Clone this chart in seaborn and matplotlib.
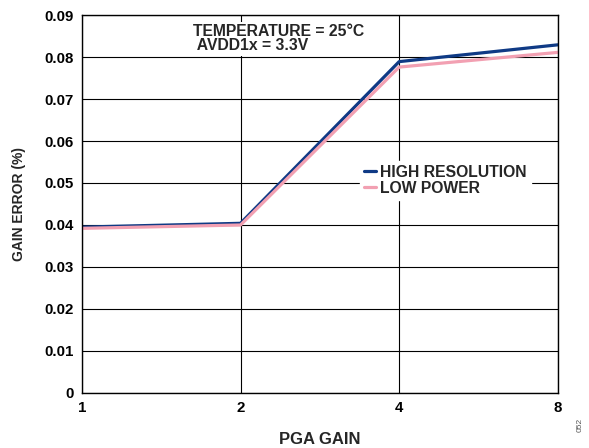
import pandas as pd
import matplotlib.pyplot as plt
import seaborn as sns
from matplotlib.ticker import FixedLocator, FixedFormatter, NullLocator

# data
pga_gain = [1, 2, 4, 8]
high_res = [0.0395, 0.0404, 0.0789, 0.0829]
low_power = [0.0392, 0.0400, 0.0776, 0.0811]

df = pd.DataFrame({
    'PGA': pga_gain * 2,
    'Error': high_res + low_power,
    'Mode': ['HIGH RESOLUTION'] * 4 + ['LOW POWER'] * 4,
})

sns.set_theme(style="white")
plt.rcParams['font.family'] = ['Liberation Sans', 'DejaVu Sans']
plt.rcParams['font.weight'] = 'bold'

fig = plt.figure(figsize=(5.89, 4.48), dpi=100)
ax = fig.add_axes([0.139, 0.1228, 0.808, 0.8437])

sns.lineplot(data=df, x='PGA', y='Error', hue='Mode',
             palette={'HIGH RESOLUTION': '#0f3a85', 'LOW POWER': '#f2a0b2'},
             linewidth=2.3, ax=ax, legend=True)

# gains 1, 2, 4, 8 are evenly spaced, so a base-2 log axis
ax.set_xscale('log', base=2)
ax.set_xlim(1, 8)
ax.xaxis.set_major_locator(FixedLocator(pga_gain))
ax.xaxis.set_major_formatter(FixedFormatter([str(v) for v in pga_gain]))
ax.xaxis.set_minor_locator(NullLocator())
ax.set_ylim(0, 0.09)
ax.set_yticks([i / 100 for i in range(10)])
ax.set_yticklabels(['0'] + [f'{i / 100:.2f}' for i in range(1, 10)])

ax.grid(True, color='black', linewidth=0.8)
ax.set_axisbelow(True)
for s in ax.spines.values():
    s.set_color('black')
    s.set_linewidth(1.0)
ax.tick_params(axis='both', labelsize=10.8, colors='black', length=0, pad=6)
for lab in ax.get_xticklabels() + ax.get_yticklabels():
    lab.set_fontweight('bold')

ax.set_xlabel('PGA GAIN', fontsize=12, fontweight='bold', labelpad=12)
ax.set_ylabel('GAIN ERROR (%)', fontsize=10, fontweight='bold', labelpad=13)

leg = ax.legend(loc='center left', bbox_to_anchor=(0.584, 0.563), frameon=True,
                fontsize=11.3, handlelength=0.8, handletextpad=0.25,
                borderpad=0.25, labelspacing=0.05, fancybox=False,
                borderaxespad=0)
leg.get_frame().set_facecolor('white')
leg.get_frame().set_edgecolor('white')
leg.get_frame().set_alpha(1)
for t in leg.get_texts():
    t.set_fontweight('bold')

ax.text(0.233, 0.975, 'TEMPERATURE = 25°C\n AVDD1x = 3.3V', transform=ax.transAxes,
        fontsize=11.3, fontweight='bold', va='top', ha='left', linespacing=0.92,
        bbox=dict(facecolor='white', edgecolor='none', pad=1.5))

fig.text(0.985, 0.035, '052', rotation=90, fontsize=6, color='#555555',
         fontweight='normal', ha='center', va='bottom')

fig.savefig('out.png', dpi=100)
